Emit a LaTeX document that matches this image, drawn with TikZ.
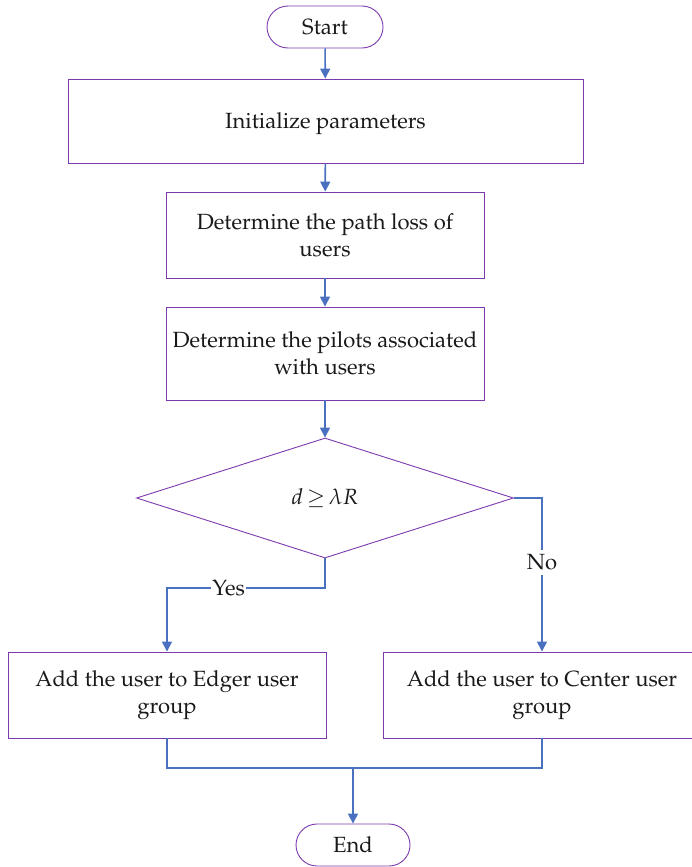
\documentclass[tikz,border=0pt]{standalone}
\usepackage[T1]{fontenc}
\usepackage{mathpazo}
\usetikzlibrary{arrows.meta,shapes.geometric}
\definecolor{boxline}{HTML}{7D3AAE}
\definecolor{flow}{HTML}{4A70C0}
\begin{document}
\begin{tikzpicture}[x=1pt,y=-1pt,
  every node/.style={font=\fontsize{22}{27}\selectfont, text=black!90},
  proc/.style={draw=boxline, line width=0.9pt, rectangle, align=center, inner sep=0pt},
  term/.style={proc, rounded corners=21pt, minimum width=116pt, minimum height=42pt},
  decide/.style={draw=boxline, line width=0.9pt, diamond, aspect=3.14, inner sep=0pt,
                 minimum width=377pt, minimum height=120pt},
  flowline/.style={draw=flow, line width=1.6pt},
  flowarrow/.style={flowline, -{Triangle[length=10pt,width=10pt]}},
  lbl/.style={fill=white, inner xsep=1pt, inner ysep=5pt}]
\useasboundingbox (0,0) rectangle (691,867);

\node[term] (start) at (325,27) {Start};
\node[proc, minimum width=515pt, minimum height=84pt, text depth=0pt] (init) at (325.5,121)
  {Initialize parameters};
\node[proc, minimum width=318pt, minimum height=86pt] (path) at (325,235)
  {Determine the path loss of\\users};
\node[proc, minimum width=318pt, minimum height=93pt] (pilot) at (325,353.5)
  {Determine the pilots associated\\with users};
\node[decide] (dec) at (325,498) {$d\mkern3mu{\geq}\mkern3mu\lambda R$};
\node[proc, minimum width=318pt, minimum height=86pt] (edgebox) at (167,695)
  {Add the user to Edger user\\group};
\node[proc, minimum width=318pt, minimum height=86pt] (centerbox) at (542,695)
  {Add the user to Center user\\group};
\node[term, minimum width=114pt] (finish) at (353,845) {End};

\coordinate (yesturn) at (325,588);
\coordinate (join) at (353,768);

\draw[flowarrow] (start) -- (init);
\draw[flowarrow] (init) -- (path);
\draw[flowarrow] (path) -- (pilot);
\draw[flowarrow] (pilot) -- (dec);

\draw[flowarrow] (dec.south) -- (yesturn) -| (edgebox.north)
  node[lbl, pos=0.305] {Yes};
\draw[flowarrow] (dec.east) -| (centerbox.north)
  node[lbl, pos=0.71] {No};

\draw[flowline] (edgebox.south) |- (join) -| (centerbox.south);
\draw[flowarrow] (join) -- (finish);
\end{tikzpicture}
\end{document}
